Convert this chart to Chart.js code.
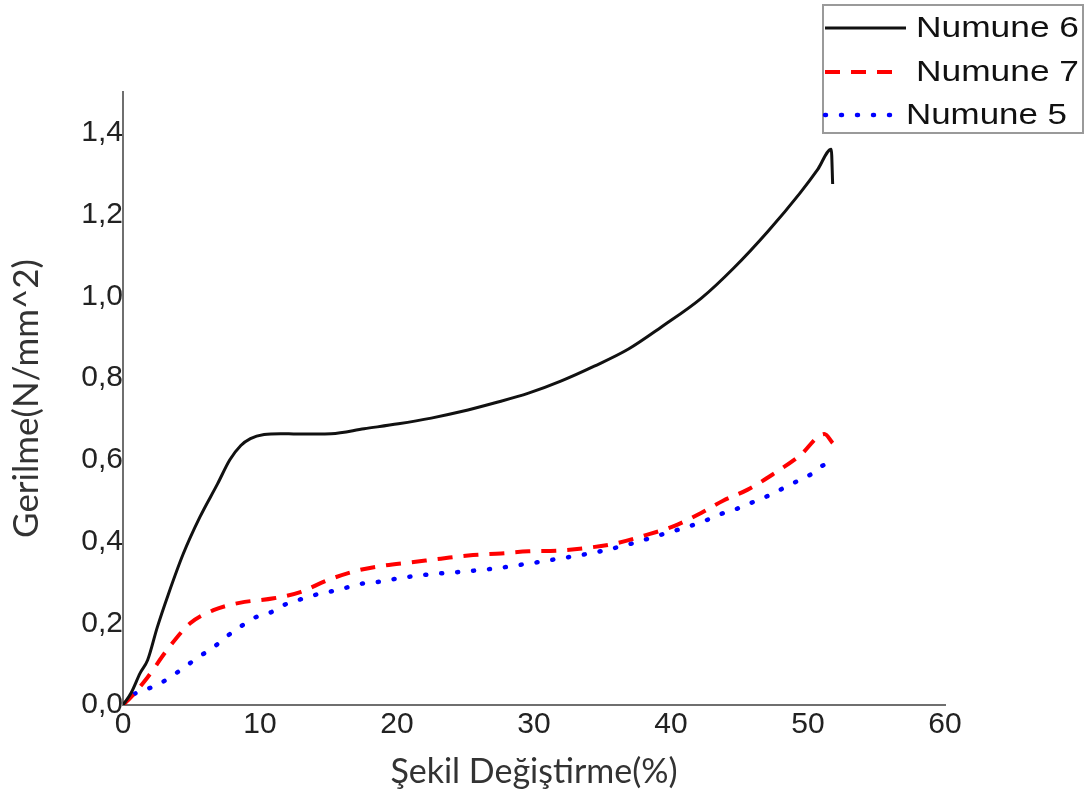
<!DOCTYPE html>
<html>
<head>
<meta charset="utf-8">
<script src="https://cdn.jsdelivr.net/npm/chart.js@4"></script>
<style>
  html, body { margin: 0; padding: 0; background: #fff; }
</style>
</head>
<body>
<canvas id="chart" width="1091" height="796"></canvas>
<script>
// values
const numune6X = [0, 0.6, 1.25, 1.8, 2.5, 3.3, 4.4, 5.6, 6.9, 7.8, 8.6, 9.3, 10.3, 11.5, 12.7, 15.2, 17.6, 20.1, 22.5, 24.7, 27.1, 29.6, 32.0, 34.4, 36.9, 39.3, 42.2, 44.6, 47.1, 49.4, 50.7, 51.7, 51.8];
const numune6Y = [0, 0.03, 0.078, 0.11, 0.19, 0.27, 0.37, 0.459, 0.541, 0.6, 0.635, 0.652, 0.662, 0.664, 0.663, 0.664, 0.676, 0.688, 0.702, 0.718, 0.739, 0.763, 0.793, 0.829, 0.871, 0.925, 0.995, 1.07, 1.16, 1.252, 1.31, 1.36, 1.275];

const numune7X = [0, 0.6, 1.8, 3.2, 4.9, 6.6, 8.5, 11, 13, 14.9, 17.1, 19, 21, 23.2, 25.2, 27.6, 29.6, 31.8, 34.0, 35.9, 38.1, 40.3, 42.2, 43.8, 45.6, 47.5, 49.4, 51.2, 51.8];
const numune7Y = [0, 0.02, 0.068, 0.134, 0.2, 0.232, 0.25, 0.261, 0.277, 0.305, 0.329, 0.341, 0.349, 0.358, 0.366, 0.371, 0.376, 0.378, 0.385, 0.395, 0.415, 0.439, 0.47, 0.5, 0.527, 0.566, 0.61, 0.663, 0.641];

const numune5X = [0, 0.7, 2.5, 4.4, 5.4, 6.6, 7.5, 8.5, 9.5, 10.8, 11.7, 13, 14.2, 15.2, 16.4, 17.6, 18.8, 20.1, 22.5, 24.7, 27.1, 29.6, 32.0, 34.4, 36.9, 39.1, 41.3, 42.5, 43.7, 44.8, 46.1, 47.1, 48.1, 49.3, 50.3, 51.3, 51.8];
const numune5Y = [0, 0.024, 0.049, 0.09, 0.115, 0.141, 0.166, 0.19, 0.212, 0.227, 0.244, 0.259, 0.271, 0.278, 0.288, 0.298, 0.302, 0.31, 0.32, 0.326, 0.334, 0.346, 0.359, 0.373, 0.393, 0.415, 0.437, 0.451, 0.468, 0.48, 0.498, 0.512, 0.529, 0.549, 0.566, 0.588, 0.58];

const xTicks = [0, 10, 20, 30, 40, 50, 60];
const yTicks = [0, 0.2, 0.4, 0.6, 0.8, 1.0, 1.2, 1.4];

function toPoints(xs, ys) {
  return xs.map((x, i) => ({ x: x, y: ys[i] }));
}

// legend drawn in the box at the top right, overlapping the plot corner
const legendBox = {
  id: "legendBox",
  afterDraw(chart) {
    const ctx = chart.ctx;
    const rowsY = [28, 72, 115];
    const lineEnd = [906, 898, 898];
    const textX = [916, 916, 906];
    const textW = [163, 163, 161];

    ctx.save();
    ctx.strokeStyle = "#9a9a9a";
    ctx.lineWidth = 2;
    ctx.strokeRect(823, 5, 260, 128);

    chart.data.datasets.forEach(function (ds, i) {
      ctx.beginPath();
      ctx.strokeStyle = ds.borderColor;
      ctx.lineWidth = ds.borderWidth;
      ctx.lineCap = ds.borderCapStyle || "butt";
      ctx.setLineDash(ds.borderDash || []);
      ctx.moveTo(825, rowsY[i]);
      ctx.lineTo(lineEnd[i], rowsY[i]);
      ctx.stroke();

      ctx.setLineDash([]);
      ctx.font = "30px 'Liberation Sans', Arial, sans-serif";
      ctx.fillStyle = "#111";
      ctx.textBaseline = "middle";
      const w = ctx.measureText(ds.label).width;
      ctx.save();
      ctx.translate(textX[i], rowsY[i] + 1);
      ctx.scale(textW[i] / w, 1);
      ctx.fillText(ds.label, 0, 0);
      ctx.restore();
    });
    ctx.restore();
  },
};

const ctx = document.getElementById("chart");
const chart = new Chart(ctx, {
  type: "scatter",
  data: {
    datasets: [
      {
        label: "Numune 6",
        data: toPoints(numune6X, numune6Y),
        borderColor: "#111111",
        borderWidth: 3,
      },
      {
        label: "Numune 7",
        data: toPoints(numune7X, numune7Y),
        borderColor: "#ff0000",
        borderWidth: 4,
        borderDash: [15, 11],
      },
      {
        label: "Numune 5",
        data: toPoints(numune5X, numune5Y),
        borderColor: "#0000ff",
        borderWidth: 4.5,
        borderDash: [1, 15],
        borderCapStyle: "round",
      },
    ],
  },
  options: {
    responsive: false,
    animation: false,
    devicePixelRatio: 1,
    showLine: true,
    layout: { padding: { top: 92, right: 146, left: 0, bottom: 0 } },
    elements: {
      point: { radius: 0, hoverRadius: 0 },
      line: { cubicInterpolationMode: "monotone", fill: false },
    },
    plugins: {
      legend: { display: false },
      tooltip: { enabled: false },
    },
    scales: {
      x: {
        min: 0,
        max: 60,
        afterBuildTicks: (axis) => {
          axis.ticks = xTicks.map((v) => ({ value: v }));
        },
        afterFit: (scale) => {
          scale.height = 91;
        },
        grid: { display: false, drawTicks: false },
        border: { display: true, color: "#6f6f6f", width: 2 },
        ticks: {
          padding: 2,
          color: "#222",
          font: { family: "'Liberation Sans', Arial, sans-serif", size: 30 },
        },
        title: {
          display: true,
          text: "Şekil Değiştirme(%)",
          color: "#333",
          font: { family: "Lato, sans-serif", size: 34 },
          padding: { top: 0, bottom: 4 },
        },
      },
      y: {
        min: 0,
        max: 1.5,
        afterBuildTicks: (axis) => {
          axis.ticks = yTicks.map((v) => ({ value: v }));
        },
        afterFit: (scale) => {
          scale.width = 123;
        },
        grid: { display: false, drawTicks: false },
        border: { display: true, color: "#6f6f6f", width: 2 },
        ticks: {
          padding: 0,
          color: "#222",
          font: { family: "'Liberation Sans', Arial, sans-serif", size: 30 },
          callback: (value) => value.toFixed(1).replace(".", ","),
        },
        title: {
          display: true,
          text: "Gerilme(N/mm^2)",
          color: "#333",
          font: { family: "Lato, sans-serif", size: 35 },
          padding: { top: 6, bottom: 0 },
        },
      },
    },
  },
  plugins: [legendBox],
});
</script>
</body>
</html>
